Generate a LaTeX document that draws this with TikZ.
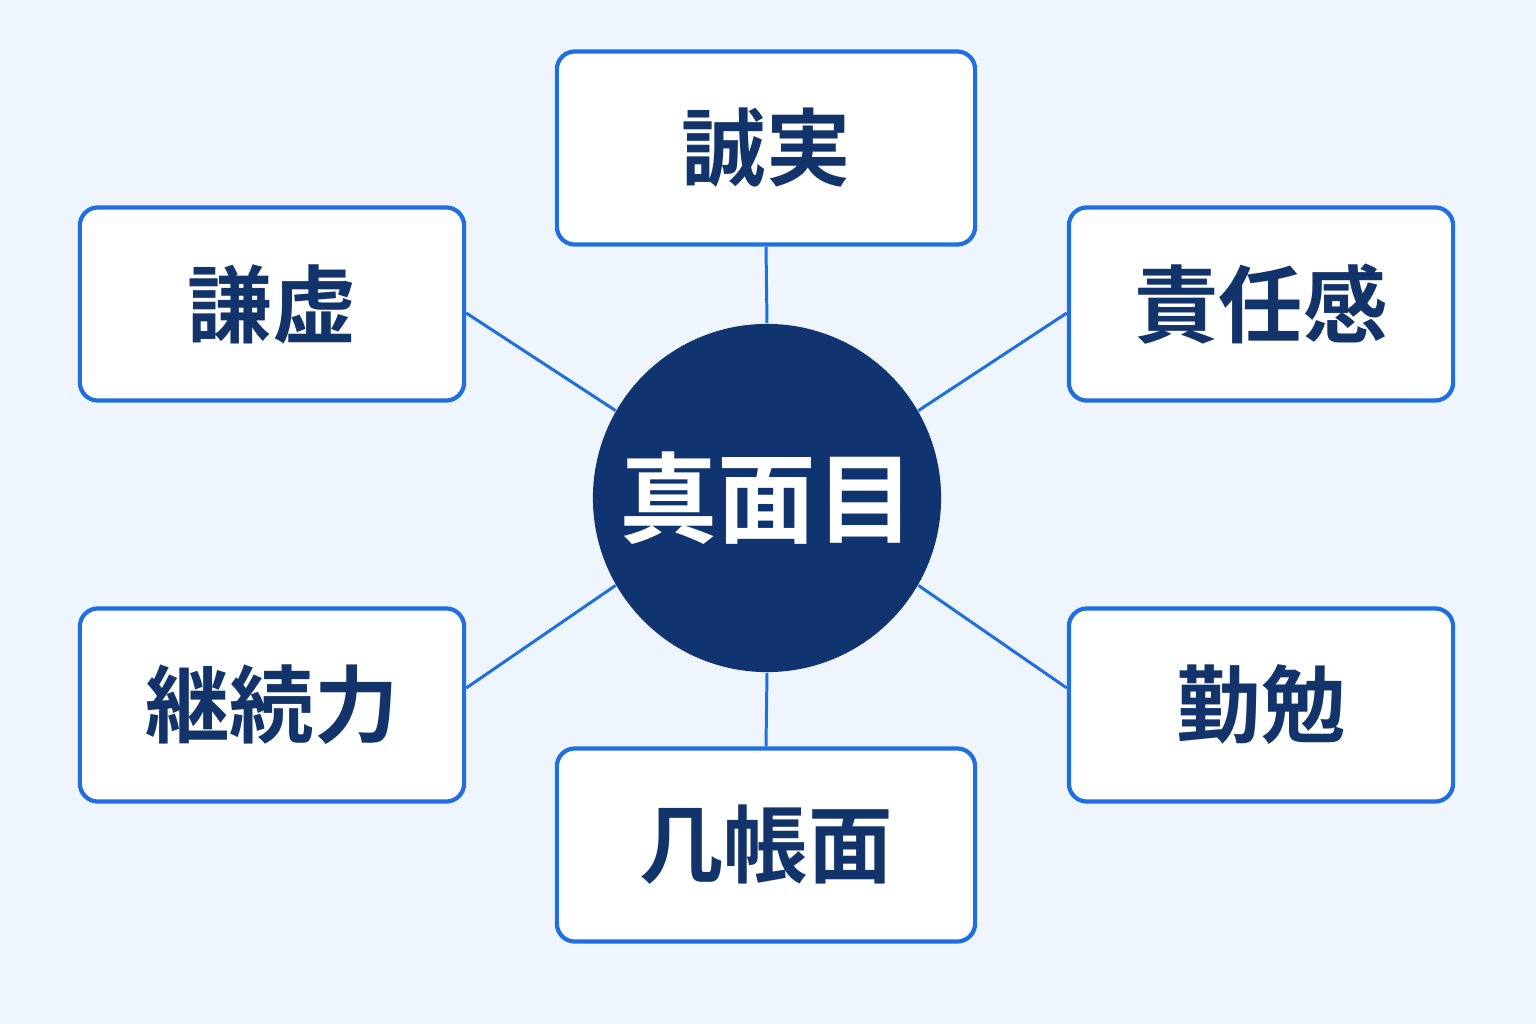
\documentclass[tikz,border=0pt]{standalone}
\usepackage{fontspec}
\usepackage{tikz}
\usetikzlibrary{positioning}
\newfontfamily\cjk{Noto Sans CJK JP Bold}
\definecolor{bgpale}{HTML}{EFF5FD}
\definecolor{edgeblue}{HTML}{1F6FE0}
\definecolor{navy}{HTML}{13336B}
\definecolor{hubnavy}{HTML}{0F3470}
\tikzset{trait/.style={draw=edgeblue, line width=1.2pt, fill=white, rounded corners=0.18cm, minimum height=1.93cm, text=navy, font=\cjk\fontsize{24}{28}\selectfont},
	link/.style={draw=edgeblue, line width=0.85pt}}

\begin{document}
\begin{tikzpicture}[x=0.01cm, y=-0.01cm]
	\fill[bgpale] (0,0) rectangle (1536,1024);
	\node[circle, fill=hubnavy, minimum size=3.48cm, text=white, font=\cjk\fontsize{28}{32}\selectfont] at (767,498) (Hub) {真面目};
	\node[trait, minimum width=4.18cm] at (766,148) (Honest) {誠実};
	\node[trait, minimum width=3.84cm] at (272,304) (Humble) {謙虚};
	\node[trait, minimum width=3.84cm] at (1261,304) (Duty) {責任感};
	\node[trait, minimum width=3.84cm] at (272,705) (Persist) {継続力};
	\node[trait, minimum width=3.84cm] at (1261,705) (Diligent) {勤勉};
	\node[trait, minimum width=4.18cm] at (766,845) (Exact) {几帳面};
	\draw[link] (Hub.north) -- (Honest.south);
	\draw[link] (Hub.south) -- (Exact.north);
	\draw[link] (Hub.150) -- ([yshift=-0.09cm]Humble.east);
	\draw[link] (Hub.30) -- ([yshift=-0.09cm]Duty.west);
	\draw[link] (Hub.210) -- ([yshift=0.17cm]Persist.east);
	\draw[link] (Hub.330) -- ([yshift=0.17cm]Diligent.west);
\end{tikzpicture}
\end{document}
